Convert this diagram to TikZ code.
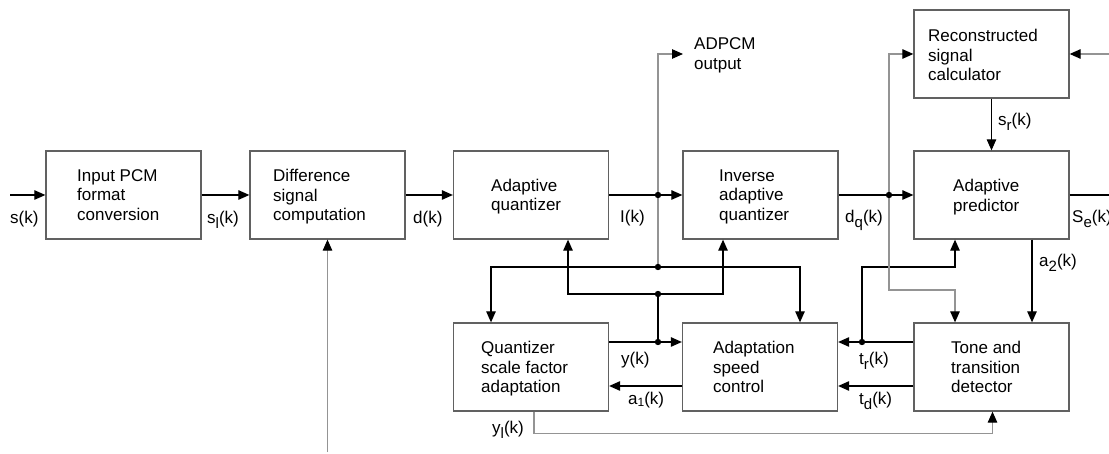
\documentclass[tikz,border=0pt]{standalone}
\usepackage{fontspec}
\setmainfont{Liberation Sans}
\usetikzlibrary{arrows.meta}
% lowered subscripts as used in the signal names
\newcommand\lsub[1]{\raisebox{-5pt}{\fontsize{15}{15}\selectfont #1}}
\newcommand\nsub[1]{\raisebox{-1.5pt}{\fontsize{12}{12}\selectfont #1}}
\begin{document}
\begin{tikzpicture}[x=1pt,y=-1pt,
  font=\fontsize{17}{19.5}\selectfont,
  box/.style={draw=black!62, line width=1.3pt, minimum width=155pt, minimum height=88pt, inner sep=0pt},
  txt/.style={anchor=north west, align=left, inner sep=0pt},
  lbl/.style={anchor=base west, inner sep=0pt},
  sig/.style={line width=1.1pt, draw=black},
  gsig/.style={line width=1.2pt, draw=black!42},
  arr/.style={-{Triangle[length=11pt,width=9.5pt,color=black]}}]
\useasboundingbox (0,0) rectangle (1109,454);

% blocks
\node[box] (b1) at (123.5,195) {};
\node[box] (b2) at (327.5,195) {};
\node[box] (b3) at (531,195) {};
\node[box] (b4) at (760.5,195) {};
\node[box] (b5) at (991.5,54) {};
\node[box] (b6) at (991.5,195) {};
\node[box] (b7) at (991.5,367) {};
\node[box] (b8) at (760,367) {};
\node[box] (b9) at (531,367) {};

% block captions
\node[txt] (t1) at (77,169.4) {Input PCM\\format\\conversion};
\node[txt] (t2) at (273,169.4) {Difference\\signal\\computation};
\node[txt] (t3) at (491,178.7) {Adaptive\\quantizer};
\node[txt] (t4) at (719,169.4) {Inverse\\adaptive\\quantizer};
\node[txt] (t5) at (928,29.4) {Reconstructed\\signal\\calculator};
\node[txt] (t6) at (953,179.4) {Adaptive\\predictor};
\node[txt] (t7) at (951,341) {Tone and\\transition\\detector};
\node[txt] (t8) at (713,341) {Adaptation\\speed\\control};
\node[txt] (t9) at (481,341) {Quantizer\\scale factor\\adaptation};
\node[txt] (tout) at (694,37.7) {ADPCM\\output};

% junctions and free ends
\coordinate (j1) at (658,195);
\coordinate (j2) at (658,267);
\coordinate (j3) at (658,294);
\coordinate (j4) at (658,342);
\coordinate (j5) at (862,342);
\coordinate (j6) at (889,195);
\coordinate (sin) at (10,195);
\coordinate (seout) at (1109,195);
\coordinate (rin) at (1109,54);
\coordinate (din) at (327.5,452);
\coordinate (aout) at (683,54);

% main forward path
\draw[sig,arr] (sin) -- (b1.west);
\draw[sig,arr] (b1.east) -- (b2.west);
\draw[sig,arr] (b2.east) -- (b3.west);
\draw[sig,arr] (b3.east) -- (b4.west);
\draw[sig,arr] (b4.east) -- (b6.west);
\draw[sig] (b6.east) -- (seout);
\draw[gsig,arr] (rin) -- (b5.east);
\draw[gsig,arr] (din) -- (b2.south);
\draw[sig,arr] (b5.south) -- (b6.north);

% I(k) distribution
\draw[gsig,arr] (j1) |- (aout);
\draw[gsig] (j1) -- (j2);
\draw[sig,arr] (j2) -| ([xshift=-40pt]b9.north);
\draw[sig,arr] (j2) -| ([xshift=40pt]b8.north);

% y(k) distribution
\draw[sig,arr] ([yshift=25pt]b9.east) -- ([yshift=25pt]b8.west);
\draw[sig] (j4) -- (j3);
\draw[sig,arr] (j3) -| ([xshift=37pt]b3.south);
\draw[sig,arr] (j3) -| ([xshift=-37.5pt]b4.south);
\draw[sig,arr] ([yshift=-19pt]b8.west) -- ([yshift=-19pt]b9.east);

% tone detector outputs
\draw[sig,arr] ([yshift=25pt]b7.west) -- ([yshift=25pt]b8.east);
\draw[sig,arr] ([yshift=-19pt]b7.west) -- ([yshift=-19pt]b8.east);
\draw[sig,arr] (j5) -- (j5 |- j2) -| ([xshift=-36.5pt]b6.south);

% dq(k) branches
\draw[gsig,arr] (j6) |- (b5.west);
\draw[gsig,arr] (j6) -- (889,290) -| ([xshift=-36.5pt]b7.north);
\draw[sig,arr] ([xshift=40.5pt]b6.south) -- ([xshift=40.5pt]b7.north);

% yl(k)
\draw[gsig,arr] ([xshift=3pt]b9.south) -- ++(0,22) -| ([xshift=1pt]b7.south);

% junction dots
\foreach \j in {j1,j2,j3,j4,j5,j6} \fill (\j) circle (3.2pt);

% signal labels
\node[lbl] (ls) at (10,224) {s(k)};
\node[lbl] (lsl) at (207,224) {s\lsub{l}(k)};
\node[lbl] (ld) at (413,224) {d(k)};
\node[lbl] (lI) at (620,223) {I(k)};
\node[lbl] (ldq) at (845,223) {d\lsub{q}(k)};
\node[lbl] (lse) at (1072,223) {S\lsub{e}(k)};
\node[lbl] (lsr) at (998,126) {s\lsub{r}(k)};
\node[lbl] (la2) at (1039,267) {a\lsub{2}(k)};
\node[lbl] (ly) at (621,365) {y(k)};
\node[lbl] (la1) at (628,405) {a\nsub{1}(k)};
\node[lbl] (ltr) at (859,365) {t\lsub{r}(k)};
\node[lbl] (ltd) at (859,405) {t\lsub{d}(k)};
\node[lbl] (lyl) at (492,433) {y\lsub{l}(k)};
\end{tikzpicture}
\end{document}
